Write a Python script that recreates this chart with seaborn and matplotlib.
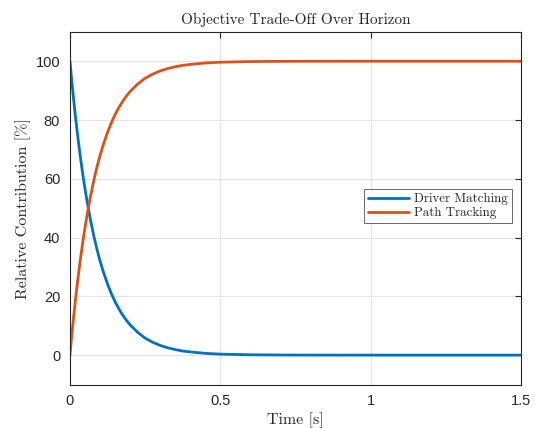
import pandas as pd
import seaborn as sns
import matplotlib.pyplot as plt

# values
time_s = [0, 0.00625, 0.0125, 0.01875, 0.025, 0.03125, 0.0375, 0.04375, 0.05,
          0.05625, 0.0625, 0.06875, 0.075, 0.08125, 0.0875, 0.09375, 0.1,
          0.1125, 0.125, 0.1375, 0.15, 0.1625, 0.175, 0.1875, 0.2, 0.225,
          0.25, 0.275, 0.3, 0.325, 0.35, 0.375, 0.4, 0.45,
          0.5, 0.6, 0.7, 0.8, 1.0, 1.25, 1.5]
driver_matching = [100, 93.1, 86.8, 80.8, 75.3, 70.1, 65.3, 60.8, 56.7,
                   52.8, 49.2, 45.8, 42.7, 39.7, 37.0, 34.5, 32.1,
                   27.9, 24.2, 21.0, 18.2, 15.8, 13.7, 11.9, 10.3, 7.8,
                   5.8, 4.4, 3.3, 2.5, 1.9, 1.4, 1.1, 0.6,
                   0.34, 0.11, 0.04, 0.01, 0, 0, 0]
path_tracking = [0, 6.9, 13.2, 19.2, 24.7, 29.9, 34.7, 39.2, 43.3,
                 47.2, 50.8, 54.2, 57.3, 60.3, 63.0, 65.5, 67.9,
                 72.1, 75.8, 79.0, 81.8, 84.2, 86.3, 88.1, 89.7, 92.2,
                 94.2, 95.6, 96.7, 97.5, 98.1, 98.6, 98.9, 99.4,
                 99.66, 99.89, 99.96, 99.99, 100, 100, 100]
series_names = ['Driver Matching', 'Path Tracking']
series_colors = ['#0072BD', '#D95319']
x_ticks = [0, 0.5, 1, 1.5]
x_tick_labels = ['0', '0.5', '1', '1.5']
y_ticks = [0, 20, 40, 60, 80, 100]

df = pd.concat([
    pd.DataFrame({'t': time_s, 'v': driver_matching, 'series': series_names[0]}),
    pd.DataFrame({'t': time_s, 'v': path_tracking, 'series': series_names[1]}),
])

sns.set_style('white')
plt.rcParams['font.family'] = ['Liberation Sans', 'DejaVu Sans']
serif = ['cmr10', 'DejaVu Serif']

fig = plt.figure(figsize=(5.38, 4.28), dpi=100)
ax = fig.add_axes([0.130, 0.1016, 0.838, 0.824])

sns.lineplot(data=df, x='t', y='v', hue='series', palette=series_colors,
             linewidth=2, ax=ax, legend=True)

ax.set_xlim(0, 1.5)
ax.set_ylim(-10, 110)
ax.set_xticks(x_ticks)
ax.set_xticklabels(x_tick_labels)
ax.set_yticks(y_ticks)
ax.grid(True, color='#e3e3e3', linewidth=0.8)
ax.set_axisbelow(True)
for s in ax.spines.values():
    s.set_color('#262626')
    s.set_linewidth(0.8)
ax.tick_params(direction='in', length=4, width=0.8, colors='#262626',
               labelsize=10.5, top=True, right=True, pad=7)

ax.set_title('Objective Trade-Off Over Horizon', family=serif, fontsize=11, pad=6)
ax.set_xlabel('Time [s]', family=serif, fontsize=11.5, labelpad=3)
ax.set_ylabel('Relative Contribution [%]', family=serif, fontsize=11.5, labelpad=3)

leg = ax.legend(loc='center right', bbox_to_anchor=(0.98, 0.506),
                prop={'family': serif, 'size': 9.3}, frameon=True,
                fancybox=False, edgecolor='#262626', handlelength=3.2,
                borderpad=0.3, labelspacing=0.15, handletextpad=0.4,
                borderaxespad=0)
leg.get_frame().set_linewidth(0.6)

fig.savefig('out.png', dpi=100)
